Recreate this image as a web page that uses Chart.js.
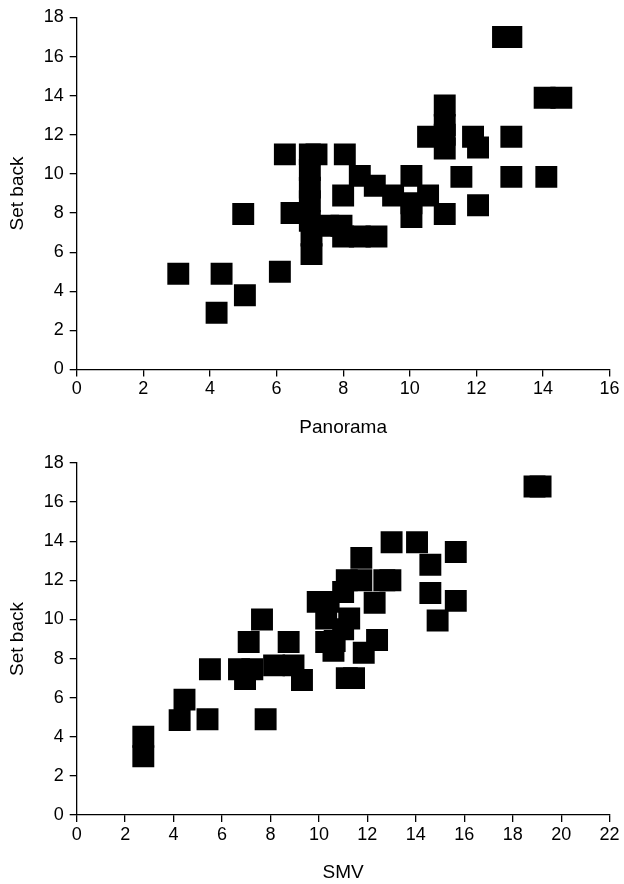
<!DOCTYPE html>
<html>
<head>
<meta charset="utf-8">
<script src="https://cdn.jsdelivr.net/npm/chart.js@4.4.1/dist/chart.umd.min.js"></script>
<style>
  html, body { margin: 0; padding: 0; background: #fff; }
  body { width: 624px; height: 884px; position: relative; overflow: hidden; }
  canvas { position: absolute; left: 0; }
  #c1 { top: 0; }
  #c2 { top: 445px; }
</style>
</head>
<body>
<canvas id="c1" width="624" height="442"></canvas>
<canvas id="c2" width="624" height="439"></canvas>
<script>
// ---- Data ----
const panoramaX = [3.05,4.35,4.2,5.05,5.0,6.1,6.25,6.45,6.75,7.0,7.2,7.0,7.0,7.0,7.0,7.05,7.05,7.55,7.95,8.0,8.5,9.0,8.05,8.0,8.5,8.95,9.5,10.05,10.05,10.05,10.55,10.55,11.05,11.05,11.05,11.05,11.05,11.55,11.9,12.05,12.05,12.8,13.05,13.05,13.05,14.05,14.55,14.1];
const panoramaY = [4.9,4.9,2.9,3.8,7.95,5.0,11.0,8.0,8.0,11.0,11.0,10.2,9.3,8.6,7.6,6.85,5.9,7.35,7.35,6.8,6.8,6.8,11.0,8.9,9.9,9.4,8.9,9.9,8.5,7.8,8.9,11.9,13.5,12.5,12.0,11.3,7.95,9.85,11.9,11.35,8.4,17.0,17.0,11.9,9.85,13.9,13.9,9.85];

const smvX = [2.75,2.75,4.25,4.45,5.4,5.5,6.7,7.25,6.95,7.8,7.65,7.1,8.75,8.15,8.95,9.3,9.95,10.4,10.3,11.25,10.3,10.65,10.6,11.0,11.0,11.15,11.75,11.75,11.85,12.4,12.3,12.7,12.95,13.0,14.05,14.6,14.6,15.65,15.65,14.9,11.15,11.45,18.9,19.15];
const smvY = [4.0,3.0,4.85,5.9,4.9,7.45,7.45,7.45,6.95,4.9,10.0,8.85,8.85,7.65,7.65,6.9,10.9,10.9,10.05,10.05,8.85,8.9,8.4,9.5,11.4,12.0,12.0,13.15,8.3,8.95,10.85,12.0,12.0,13.95,13.95,12.8,11.35,13.45,10.95,9.95,7.0,7.0,16.8,16.8];

const setBackTicks = [0,2,4,6,8,10,12,14,16,18];
const panoramaTicks = [0,2,4,6,8,10,12,14,16];
const smvTicks = [0,2,4,6,8,10,12,14,16,18,20,22];

const yTitle = 'Set back';
const topXTitle = 'Panorama';
const bottomXTitle = 'SMV';

// ---- Chart builder ----
const FONT = "'Liberation Sans', Arial, sans-serif";

function makeChart(id, xs, ys, xTicks, xTitle, geo) {
  const pts = xs.map((x, i) => ({ x: x, y: ys[i] }));
  const tickFont = { family: FONT, size: 18 };
  return new Chart(document.getElementById(id), {
    type: 'scatter',
    data: {
      datasets: [{
        data: pts,
        pointStyle: 'rect',
        pointRadius: 15.5,
        pointHoverRadius: 15.5,
        backgroundColor: '#000',
        borderColor: '#000',
        borderWidth: 0
      }]
    },
    options: {
      responsive: false,
      animation: false,
      devicePixelRatio: 1,
      events: [],
      layout: { autoPadding: false, padding: { top: geo.top, right: 14.4, left: 0, bottom: 0 } },
      plugins: { legend: { display: false }, tooltip: { enabled: false } },
      scales: {
        x: {
          type: 'linear',
          min: xTicks[0], max: xTicks[xTicks.length - 1],
          afterBuildTicks: (s) => { s.ticks = xTicks.map(v => ({ value: v })); },
          afterFit: (s) => { s.height = geo.xh; },
          border: { display: true, color: '#000', width: 1.3 },
          grid: { display: true, drawOnChartArea: false, drawTicks: true, tickLength: 7, color: '#000', lineWidth: 1.3 },
          ticks: { color: '#000', font: tickFont, padding: 2, maxRotation: 0, autoSkip: false },
          title: { display: true, text: xTitle, color: '#000', font: { family: FONT, size: 19, lineHeight: 1.2 }, padding: { top: 0, bottom: geo.xtb } }
        },
        y: {
          type: 'linear',
          min: 0, max: 18,
          afterBuildTicks: (s) => { s.ticks = setBackTicks.map(v => ({ value: v })); },
          afterFit: (s) => { s.width = 76.7; },
          border: { display: true, color: '#000', width: 1.3 },
          grid: { display: true, drawOnChartArea: false, drawTicks: true, tickLength: 7, color: '#000', lineWidth: 1.3 },
          ticks: { color: '#000', font: tickFont, padding: 6, autoSkip: false },
          title: { display: true, text: yTitle, color: '#000', font: { family: FONT, size: 19, lineHeight: 1.2 }, padding: { top: 6, bottom: 0 } }
        }
      }
    }
  });
}

makeChart('c1', panoramaX, panoramaY, panoramaTicks, topXTitle, { top: 17.5, xh: 72.5, xtb: 3 });
makeChart('c2', smvX, smvY, smvTicks, bottomXTitle, { top: 18, xh: 69, xtb: 0 });
</script>
</body>
</html>
